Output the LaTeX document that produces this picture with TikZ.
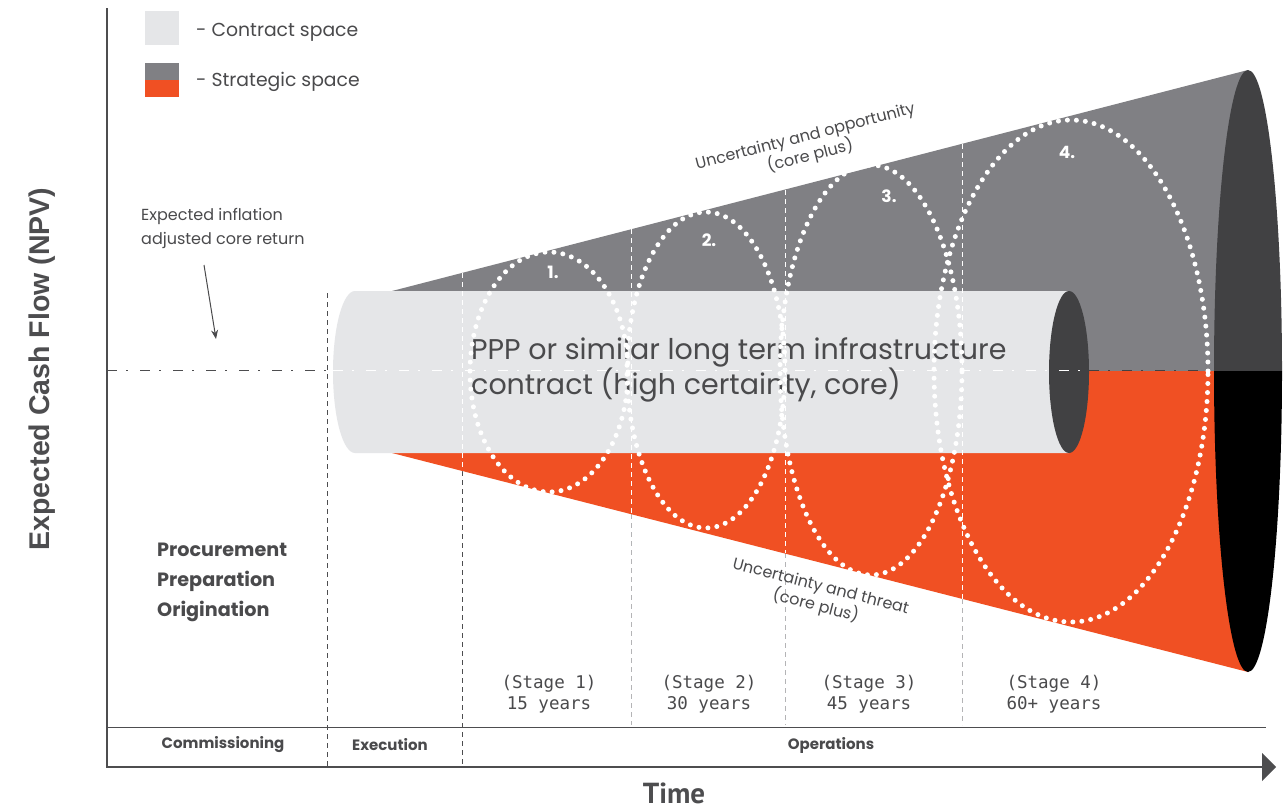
\documentclass[tikz,border=0pt]{standalone}
\usepackage{fontspec}
\setmainfont{Poppins}
\setmonofont{DejaVu Sans Mono}
\newfontfamily\axisfont{Liberation Sans}
\newfontfamily\timefont{PT Sans}
\usetikzlibrary{arrows.meta}
\definecolor{lightc}{HTML}{E5E6E8}
\definecolor{coneg}{HTML}{808084}
\definecolor{orangec}{HTML}{F05023}
\definecolor{darkend}{HTML}{414143}
\definecolor{axisc}{HTML}{4D4D4F}
\definecolor{textc}{HTML}{4A4A4C}
\definecolor{stagel}{HTML}{B4B4B6}
\tikzset{
  txt/.style={text=textc, inner sep=0pt},
  dotell/.style={white, line width=5pt, line cap=round, dash pattern=on 0pt off 9pt},
  cdash/.style={white, line width=0.8pt, dash pattern=on 5pt off 4pt},
  ddash/.style={axisc, line width=1pt, dash pattern=on 5pt off 4pt},
  ldash/.style={stagel, line width=1pt, dash pattern=on 5pt off 4pt},
  dashdot/.style={line width=1pt, dash pattern=on 10pt off 9pt on 2pt off 12pt},
  stagetxt/.style={txt, align=center, font=\ttfamily\fontsize{17.5}{21}\selectfont},
  phase/.style={txt, font=\fontseries{sb}\selectfont\fontsize{15}{18}\selectfont},
  num/.style={text=white, inner sep=0pt, font=\fontseries{sb}\selectfont\fontsize{17}{20}\selectfont}
}
\begin{document}
\begin{tikzpicture}[x=1pt,y=-1pt]
\useasboundingbox (0,0) rectangle (1287,811);
\fill[white] (0,0) rectangle (1287,811);

% dashed phase lines outside the cone
\draw[ddash] (327,293) -- (327,767);
\draw[ddash] (462,471) -- (462,767);
\draw[ldash] (631,514) -- (631,725);
\draw[ldash] (785,553) -- (785,725);
\draw[ldash] (962,599) -- (962,725);

% cone
\fill[coneg] (392,291) -- (1248,70) -- (1248,371) -- (392,371) -- cycle;
\fill[orangec] (392,453) -- (1248,672) -- (1248,371) -- (392,371) -- cycle;
% cone end
\fill[darkend] (1282,371) arc[start angle=0,end angle=180,x radius=34pt,y radius=301pt] -- cycle;
\fill[black] (1214,371) arc[start angle=180,end angle=360,x radius=34pt,y radius=301pt] -- cycle;

% cylinder
\fill[lightc] (355,291) -- (1069,291) -- (1069,453) -- (355,453)
  arc[start angle=270,end angle=90,x radius=22pt,y radius=81pt] -- cycle;
\fill[darkend] (1069,372) ellipse[x radius=20pt,y radius=81pt];

% white dashed lines inside cone
\draw[cdash] (462,273) -- (462,471);
\draw[cdash] (631,229) -- (631,514);
\draw[cdash] (785,190) -- (785,553);
\draw[cdash] (962,144) -- (962,599);

% centre line
\draw[dashdot, axisc] (107,370) -- (333,370);
\draw[dashdot, white] (333,370) -- (1089,370);
\draw[dashdot, darkend] (1089,370) -- (1214,370);

% text in cylinder
\node[txt, anchor=west, align=left, font=\fontsize{28.5}{35}\selectfont] (ppp) at (471,370)
  {PPP or similar long term infrastructure\\contract (high certainty, core)};

% dotted stage ellipses
\draw[dotell] (549,372) ellipse[x radius=79pt,y radius=120pt];
\draw[dotell] (706,370) ellipse[x radius=79pt,y radius=158pt];
\draw[dotell] (871,370) ellipse[x radius=91pt,y radius=205pt];
\draw[dotell] (1071,371) ellipse[x radius=137pt,y radius=251pt];

\node[num] (n1) at (553,272) {1.};
\node[num] (n2) at (709,240) {2.};
\node[num] (n3) at (889,196) {3.};
\node[num] (n4) at (1067,152) {4.};

% cone labels
\node[txt, align=center, rotate=14.5, font=\fontsize{16}{20}\selectfont] (opp) at (808,147)
  {Uncertainty and opportunity\\(core plus)};
\node[txt, align=center, rotate=-14.5, font=\fontsize{16}{20}\selectfont] (thr) at (818,597)
  {Uncertainty and threat\\(core plus)};

% axes
\draw[axisc, line width=2pt] (107,8) -- (107,767) -- (1264,767);
\fill[axisc] (1262,753) -- (1276,767) -- (1262,781) -- cycle;
\draw[axisc, line width=1pt] (107,727) -- (1266,727);

% legend
\fill[lightc] (145,11) rectangle (179,45);
\fill[coneg] (145,63) rectangle (179,80);
\fill[orangec] (145,80) rectangle (179,97);
\node[txt, anchor=west, font=\fontsize{18.8}{22}\selectfont] (lg1) at (196,32) {- Contract space};
\node[txt, anchor=west, font=\fontsize{18.8}{22}\selectfont] (lg2) at (196,82) {- Strategic space};

% inflation note
\node[txt, anchor=west, align=left, font=\fontsize{16}{24}\selectfont] (infl) at (141,228)
  {Expected inflation\\adjusted core return};
\coordinate (ia) at (204,265);
\coordinate (ib) at (216,339);
\draw[textc, line width=1pt, -{Stealth[length=9pt,width=7pt]}] (ia) -- (ib);

% y axis label
\node[text=axisc, inner sep=0pt, rotate=90, font=\axisfont\bfseries\fontsize{28.5}{32}\selectfont] (ylab) at (42,369)
  {Expected Cash Flow (NPV)};

% phases block
\node[txt, anchor=west, align=left, font=\fontseries{sb}\selectfont\fontsize{19.2}{30}\selectfont] (proc) at (157,582)
  {Procurement\\Preparation\\Origination};

% stages
\node[stagetxt] (s1) at (549,694) {(Stage 1)\\15 years};
\node[stagetxt] (s2) at (709,694) {(Stage 2)\\30 years};
\node[stagetxt] (s3) at (869,694) {(Stage 3)\\45 years};
\node[stagetxt] (s4) at (1054,694) {(Stage 4)\\60+ years};

% bottom phases
\node[phase] (comm) at (223,745) {Commissioning};
\node[phase] (exe) at (390,745) {Execution};
\node[phase] (ops) at (831,745) {Operations};

\node[text=axisc, inner sep=0pt, font=\timefont\bfseries\fontsize{29}{31}\selectfont] (time) at (674,793) {Time};
\end{tikzpicture}
\end{document}
